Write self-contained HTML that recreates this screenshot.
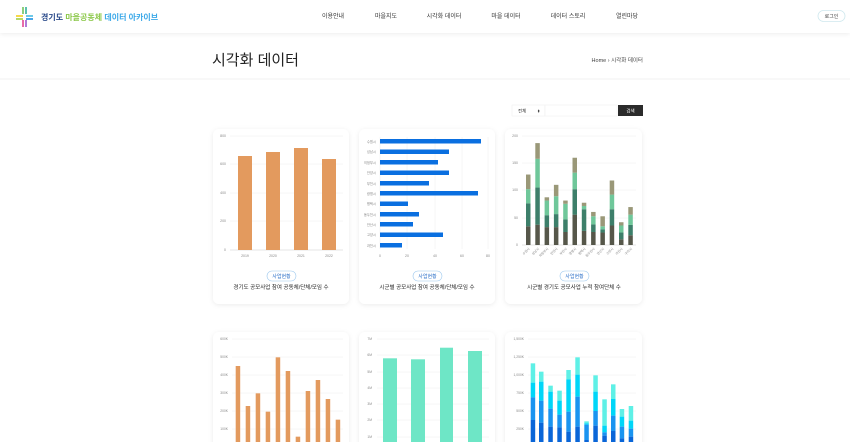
<!DOCTYPE html>
<html><head><meta charset="utf-8"><style>
html,body{margin:0;padding:0;background:#fff;width:850px;height:442px;overflow:hidden}
svg{display:block;font-family:"Liberation Sans","Noto Sans CJK KR",sans-serif}
</style></head><body>
<svg width="850" height="442" viewBox="0 0 850 442" xmlns="http://www.w3.org/2000/svg">
<defs>
<filter id="sh" x="-10%" y="-10%" width="120%" height="120%"><feDropShadow dx="0" dy="1" stdDeviation="2.5" flood-color="#000" flood-opacity="0.08"/></filter>
<filter id="hs" x="-5%" y="-50%" width="110%" height="200%"><feDropShadow dx="0" dy="1" stdDeviation="2" flood-color="#000" flood-opacity="0.07"/></filter>
</defs>
<rect x="0" y="0" width="850" height="33" fill="#fff" filter="url(#hs)"/>
<!-- logo -->
<g>
<rect x="16" y="15" width="7" height="2" fill="#f7d84a"/><rect x="16" y="18" width="7" height="2" fill="#b5d86a"/>
<rect x="26" y="15" width="7" height="2" fill="#6ec9e8"/><rect x="26" y="18" width="7" height="2" fill="#4aa6e8"/>
<rect x="22" y="7" width="2" height="7" fill="#8fd07a"/><rect x="25" y="7" width="2" height="7" fill="#5cc0b0"/>
<rect x="22" y="20" width="2" height="7" fill="#e86aa8"/><rect x="25" y="20" width="2" height="7" fill="#b07ad8"/>
<text x="41" y="20" font-size="8" font-weight="bold" fill="#2a4a8a">경기도 <tspan fill="#8cc84a">마을공동체</tspan> <tspan fill="#3aa8e8">데이터 아카이브</tspan></text>
</g>
<g font-size="6" fill="#333" text-anchor="middle">
<text x="333" y="18">이용안내</text><text x="386" y="18">마을지도</text><text x="444" y="18">시각화 데이터</text>
<text x="506" y="18">마을 데이터</text><text x="568" y="18">데이터 스토리</text><text x="627" y="18">열린마당</text>
</g>
<rect x="818" y="10.5" width="27" height="11" rx="5.5" fill="#fff" stroke="#cfe8ee" stroke-width="0.8"/>
<text x="831.5" y="18" font-size="5" fill="#444" text-anchor="middle">로그인</text>
<!-- title -->
<text x="212" y="65" font-size="15" fill="#222">시각화 데이터</text>
<text x="643" y="62" font-size="5.5" fill="#444" text-anchor="end">Home  ›  시각화 데이터</text>
<line x1="0" y1="79" x2="850" y2="79" stroke="#f0f0f0" stroke-width="1"/>
<!-- search -->
<rect x="512" y="105" width="33" height="11" fill="#fff" stroke="#eee" stroke-width="0.5"/>
<text x="518" y="112.5" font-size="4.5" fill="#333">전체</text><text x="537" y="112.5" font-size="4" fill="#333">⬍</text>
<rect x="545" y="105" width="72" height="11" fill="#fff" stroke="#eee" stroke-width="0.5"/>
<rect x="618" y="105" width="25" height="11" fill="#2b2b2b"/>
<text x="630.5" y="112.5" font-size="4.5" fill="#fff" text-anchor="middle">검색</text>
<!-- cards -->
<g fill="#fff" filter="url(#sh)">
<rect x="213" y="129" width="136" height="175" rx="6"/><rect x="359" y="129" width="136" height="175" rx="6"/><rect x="505" y="129" width="137" height="175" rx="6"/>
<rect x="213" y="332" width="136" height="130" rx="6"/><rect x="359" y="332" width="136" height="130" rx="6"/><rect x="505" y="332" width="137" height="130" rx="6"/>
</g>
<!-- card1 -->
<g stroke="#eee" stroke-width="0.5">
<line x1="230" y1="136" x2="343" y2="136"/><line x1="230" y1="164" x2="343" y2="164"/><line x1="230" y1="193" x2="343" y2="193"/><line x1="230" y1="221" x2="343" y2="221"/>
</g>
<line x1="230" y1="250" x2="343" y2="250" stroke="#ccc" stroke-width="0.6"/>
<g font-size="3.5" fill="#888" text-anchor="end"><text x="226" y="137">800</text><text x="226" y="165">600</text><text x="226" y="194">400</text><text x="226" y="222">200</text><text x="226" y="251">0</text></g>
<g fill="#e39a5e"><rect x="238" y="156" width="14" height="94"/><rect x="266" y="152" width="14" height="98"/><rect x="294" y="148" width="14" height="102"/><rect x="322" y="159" width="14" height="91"/></g>
<g font-size="3.5" fill="#888" text-anchor="middle"><text x="245" y="257">2019</text><text x="273" y="257">2020</text><text x="301" y="257">2021</text><text x="329" y="257">2022</text></g>
<rect x="267" y="271" width="29" height="10" rx="5" fill="#fff" stroke="#9cc8ee" stroke-width="0.6"/>
<text x="281.5" y="278" font-size="5" fill="#2a6fc8" text-anchor="middle">사업현황</text>
<text x="281" y="289" font-size="5.5" fill="#222" text-anchor="middle">경기도 공모사업 참여 공동체/단체/모임 수</text>
<!-- card2 -->
<g stroke="#eee" stroke-width="0.5"><line x1="380" y1="137" x2="380" y2="249"/><line x1="407" y1="137" x2="407" y2="249"/><line x1="435" y1="137" x2="435" y2="249"/><line x1="462" y1="137" x2="462" y2="249"/><line x1="488" y1="137" x2="488" y2="249"/></g>
<g fill="#0a6fe0">
<rect x="380" y="139" width="101" height="4.5"/><rect x="380" y="149.5" width="69" height="4.5"/><rect x="380" y="160" width="58" height="4.5"/><rect x="380" y="170.5" width="69" height="4.5"/><rect x="380" y="181" width="49" height="4.5"/><rect x="380" y="191" width="98" height="4.5"/><rect x="380" y="201.5" width="28" height="4.5"/><rect x="380" y="212" width="39" height="4.5"/><rect x="380" y="222" width="33" height="4.5"/><rect x="380" y="232.5" width="63" height="4.5"/><rect x="380" y="243" width="22" height="4.5"/>
</g>
<g font-size="3.3" fill="#888" text-anchor="end"><text x="376" y="143">수원시</text><text x="376" y="153">성남시</text><text x="376" y="164">의정부시</text><text x="376" y="174">안양시</text><text x="376" y="185">부천시</text><text x="376" y="195">광명시</text><text x="376" y="205">평택시</text><text x="376" y="216">동두천시</text><text x="376" y="226">안산시</text><text x="376" y="236">고양시</text><text x="376" y="247">과천시</text></g>
<g font-size="3.5" fill="#888" text-anchor="middle"><text x="380" y="257">0</text><text x="407" y="257">20</text><text x="435" y="257">40</text><text x="462" y="257">60</text><text x="488" y="257">80</text></g>
<rect x="413" y="271" width="29" height="10" rx="5" fill="#fff" stroke="#9cc8ee" stroke-width="0.6"/>
<text x="427.5" y="278" font-size="5" fill="#2a6fc8" text-anchor="middle">사업현황</text>
<text x="427" y="289" font-size="5.5" fill="#222" text-anchor="middle">시군별 공모사업 참여 공동체/단체/모임 수</text>
<!-- card3 -->
<g stroke="#eee" stroke-width="0.5"><line x1="522" y1="136" x2="636" y2="136"/><line x1="522" y1="163" x2="636" y2="163"/><line x1="522" y1="190" x2="636" y2="190"/><line x1="522" y1="218" x2="636" y2="218"/></g>
<line x1="522" y1="245" x2="636" y2="245" stroke="#ccc" stroke-width="0.6"/>
<g font-size="3.5" fill="#888" text-anchor="end"><text x="518" y="137">200</text><text x="518" y="164">150</text><text x="518" y="191">100</text><text x="518" y="219">50</text><text x="518" y="246">0</text></g>
<g id="c3"></g>
<g font-size="3.2" fill="#888" id="c3l"></g>
<rect x="560" y="271" width="29" height="10" rx="5" fill="#fff" stroke="#9cc8ee" stroke-width="0.6"/>
<text x="574.5" y="278" font-size="5" fill="#2a6fc8" text-anchor="middle">사업현황</text>
<text x="574" y="289" font-size="5.5" fill="#222" text-anchor="middle">시군별 경기도 공모사업 누적 참여단체 수</text>
<!-- card4 -->
<g stroke="#eee" stroke-width="0.5"><line x1="232" y1="339" x2="343" y2="339"/><line x1="232" y1="357" x2="343" y2="357"/><line x1="232" y1="375" x2="343" y2="375"/><line x1="232" y1="393" x2="343" y2="393"/><line x1="232" y1="411" x2="343" y2="411"/><line x1="232" y1="429" x2="343" y2="429"/></g>
<g font-size="3.3" fill="#888" text-anchor="end"><text x="228" y="340">600K</text><text x="228" y="358">500K</text><text x="228" y="376">400K</text><text x="228" y="394">300K</text><text x="228" y="412">200K</text><text x="228" y="430">100K</text></g>
<g fill="#e39a5e" id="c4"></g>
<!-- card5 -->
<g stroke="#eee" stroke-width="0.5"><line x1="377" y1="339" x2="489" y2="339"/><line x1="377" y1="355" x2="489" y2="355"/><line x1="377" y1="372" x2="489" y2="372"/><line x1="377" y1="388" x2="489" y2="388"/><line x1="377" y1="404" x2="489" y2="404"/><line x1="377" y1="420" x2="489" y2="420"/><line x1="377" y1="437" x2="489" y2="437"/></g>
<g font-size="3.3" fill="#888" text-anchor="end"><text x="372" y="340">7M</text><text x="372" y="356">6M</text><text x="372" y="373">5M</text><text x="372" y="389">4M</text><text x="372" y="405">3M</text><text x="372" y="421">2M</text><text x="372" y="438">1M</text></g>
<g fill="#6ee6c6"><rect x="383" y="358.3" width="14" height="90"/><rect x="411" y="359.3" width="14" height="90"/><rect x="440" y="347.7" width="13" height="100"/><rect x="468" y="351" width="14" height="100"/></g>
<!-- card6 -->
<g stroke="#eee" stroke-width="0.5"><line x1="528" y1="339" x2="636" y2="339"/><line x1="528" y1="357" x2="636" y2="357"/><line x1="528" y1="375" x2="636" y2="375"/><line x1="528" y1="393" x2="636" y2="393"/><line x1="528" y1="411" x2="636" y2="411"/><line x1="528" y1="429" x2="636" y2="429"/></g>
<g font-size="3.3" fill="#888" text-anchor="end"><text x="524" y="340">1,500K</text><text x="524" y="358">1,250K</text><text x="524" y="376">1,000K</text><text x="524" y="394">750K</text><text x="524" y="412">500K</text><text x="524" y="430">250K</text></g>
<g id="c6"></g>
</svg>
<script>
var NS="http://www.w3.org/2000/svg";
function r(g,x,y,w,h,f){var e=document.createElementNS(NS,"rect");e.setAttribute("x",x);e.setAttribute("y",y);e.setAttribute("width",w);e.setAttribute("height",h);e.setAttribute("fill",f);g.appendChild(e);}
// card3
var g3=document.getElementById("c3");
var d3=[[34.5,77,103,130],[37.5,106,159,188],[33,55,82,88],[33,57,90,111],[24,47,76,82],[56,103,133.5,161],[26,66,72,78],[24,38,53,61],[23,29,34.5,53],[36,66,93,119],[10.5,23,36,42],[18,37,56,70]];
var c3=["#56574a","#3d7f6a","#6fc79a","#9a9878"];
d3.forEach(function(v,i){var x=526+i*9.3,prev=0;v.forEach(function(t,j){var y1=245-t*0.542,y0=245-prev*0.542;r(g3,x,y1,4.5,y0-y1,c3[j]);prev=t;});});
var lab=["수원시","성남시","의정부시","안양시","부천시","광명시","평택시","동두천시","안산시","고양시","과천시","구리시"];
var gl=document.getElementById("c3l");
lab.forEach(function(s,i){var t=document.createElementNS(NS,"text");var x=530+i*9.3;t.setAttribute("x",x);t.setAttribute("y",249);t.setAttribute("text-anchor","end");t.setAttribute("transform","rotate(-45 "+x+" 249)");t.textContent=s;gl.appendChild(t);});
// card4
var g4=document.getElementById("c4");
[123,243,205,260,97,138,335,198,165,222,284].forEach(function(z,i){var y=325+z/3;r(g4,235.7+i*10,y,4.5,450-y,"#e39a5e");});
// card6
var g6=document.getElementById("c6");
var d6=[[115,173,217,285],[140,170,227,293],[182,200,251,305],[197,227,269,307],[135,163,260,320],[97,149,215,305],[289,295,299,345],[151,200,258,302],[223,302,322,332],[178,222,272,318],[252,275,305,340],[243,287,311,335]];
var xs=[530.7,539,548.3,557.3,566.3,575.3,584.3,593.3,602.3,611,619.7,628.7];
var c6=["#5ef0e6","#00d6f8","#1a94f0","#0a66d8"];
d6.forEach(function(v,i){for(var j=0;j<4;j++){var y1=325+v[j]/3,y0=j<3?325+v[j+1]/3:450;r(g6,xs[i],y1,4.5,y0-y1,c6[j]);}});
</script>
</body></html>
